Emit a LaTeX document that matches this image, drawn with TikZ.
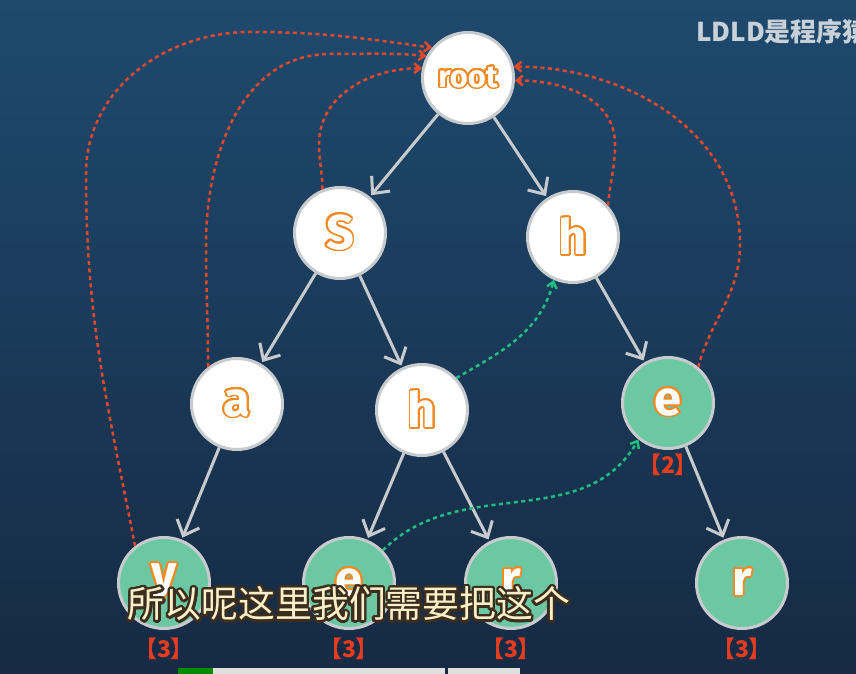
\documentclass[tikz,border=0pt]{standalone}
\usepackage{fontspec}
\usepackage{xcolor}
\usepackage[copies]{contour}
\usetikzlibrary{arrows.meta}
\newfontfamily\letterfont{Fira Sans}
\newfontfamily\cjk{Noto Sans CJK SC}
\definecolor{bgtop}{RGB}{30,74,110}
\definecolor{bgbot}{RGB}{22,42,68}
\definecolor{ringgray}{RGB}{200,203,206}
\definecolor{leafgreen}{RGB}{108,200,162}
\definecolor{letterorange}{RGB}{240,138,36}
\definecolor{failred}{RGB}{226,72,42}
\definecolor{linkgreen}{RGB}{34,190,128}
\definecolor{countred}{RGB}{232,60,30}
\definecolor{subcream}{RGB}{248,240,200}
\definecolor{subbrown}{RGB}{60,45,30}
\definecolor{markgray}{RGB}{200,208,216}
\contournumber{24}

\begin{document}
\begin{tikzpicture}[x=1bp,y=1bp,
    trie/.style={circle, draw=ringgray, line width=3bp, fill=white, minimum size=91bp, inner sep=0pt,
      text=white, font=\letterfont\bfseries\fontsize{49}{49}\selectfont},
    wordend/.style={trie, fill=leafgreen},
    edge/.style={-{Straight Barb[length=13bp,width=24bp]}, draw=ringgray, line width=3bp, shorten >=2bp},
    fail/.style={-{Straight Barb[length=6bp,width=10bp]}, draw=failred, line width=2.5bp, dash pattern=on 4bp off 3.5bp},
    link/.style={fail, draw=linkgreen},
    count/.style={text=countred, font=\cjk\bfseries\fontsize{23}{23}\selectfont}]
  \shade[top color=bgtop, bottom color=bgbot] (0,0) rectangle (856,674);
  \useasboundingbox (0,0) rectangle (856,674);

  % trie nodes
  \node[trie, font=\letterfont\bfseries\fontsize{31}{31}\selectfont] (root) at (468,596) {\contourlength{1.8bp}\contour{letterorange}{root}};
  \node[trie] (s) at (340,441) {\contourlength{1.8bp}\contour{letterorange}{S}};
  \node[trie] (h1) at (573,437) {\contourlength{1.8bp}\contour{letterorange}{h}};
  \node[trie] (a) at (237,270) {\contourlength{1.8bp}\contour{letterorange}{a}};
  \node[trie] (h2) at (422,264) {\contourlength{1.8bp}\contour{letterorange}{h}};
  \node[wordend] (e1) at (668,271) {\contourlength{1.8bp}\contour{letterorange}{e}};
  \node[wordend] (y) at (164,91) {\contourlength{1.8bp}\contour{letterorange}{y}};
  \node[wordend] (e2) at (349,91) {\contourlength{1.8bp}\contour{letterorange}{e}};
  \node[wordend] (r1) at (511,91) {\contourlength{1.8bp}\contour{letterorange}{r}};
  \node[wordend] (r2) at (742,91) {\contourlength{1.8bp}\contour{letterorange}{r}};

  % counts
  \node[count] (ce1) at (668,209) {【2】};
  \node[count] (cy) at (164,25) {【3】};
  \node[count] (ce2) at (349,25) {【3】};
  \node[count] (cr1) at (511,25) {【3】};
  \node[count] (cr2) at (742,25) {【3】};

  % tree edges
  \draw[edge] (root) -- (s);
  \draw[edge] (root) -- (h1);
  \draw[edge] (s) -- (a);
  \draw[edge] (s) -- (h2);
  \draw[edge] (h1) -- (e1);
  \draw[edge] (a) -- (y);
  \draw[edge] (h2) -- (e2);
  \draw[edge] (h2) -- (r1);
  \draw[edge] (e1) -- (r2);

  % fail pointers back to root
  \draw[fail] (y.128) to[out=101,in=-90] (86,500) to[out=90,in=180] (250,642) to[out=0,in=172] (root.140);
  \draw[fail] (a.128) to[out=90,in=-90] (206,430) to[out=90,in=180] (330,620) to[out=0,in=175] (root.152);
  \draw[fail] (s.112) to[out=90,in=-90] (319,530) to[out=90,in=180] (root.168);
  \draw[fail] (h1.42) to[out=85,in=-90] (615,530) to[out=90,in=0] (root.-3);
  \draw[fail] (e1.50) to[out=75,in=-90] (740,430) to[out=90,in=0] (root.14);

  % links to other branches
  \draw[link] (h2.43) to[out=30,in=-105] (h1.246);
  \draw[link] (e2.44) to[out=45,in=-120] (e1.231);

  % caption and mark
  \node[font=\cjk\fontsize{37}{37}\selectfont, text=subcream] (sub) at (349,69) {\contourlength{2.4bp}\contour{subbrown}{所以呢这里我们需要把这个}};
  \node[anchor=west, inner sep=0pt, text=markgray, font=\cjk\bfseries\fontsize{26}{26}\selectfont] (mark) at (696,642) {LDLD是程序猿};

  % toolbar
  \fill[green!55!black] (178,0) rectangle (213,6);
  \fill[gray!25] (213,0) rectangle (445,6);
  \fill[gray!25] (448,0) rectangle (520,6);
\end{tikzpicture}
\end{document}
